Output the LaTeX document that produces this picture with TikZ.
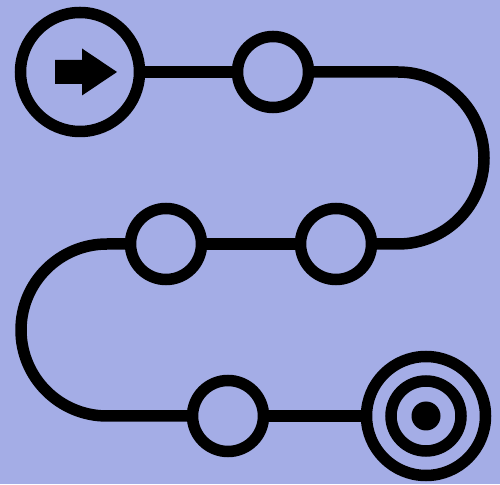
\documentclass[tikz,border=0pt]{standalone}
\usetikzlibrary{positioning}
\definecolor{routebg}{RGB}{164,173,230}
\tikzset{
  ring/.style={circle, draw=black, line width=11.5pt, inner sep=0pt, outer sep=0pt},
  waypoint/.style={ring, minimum size=71pt},
  bigring/.style={ring, minimum size=119pt},
  track/.style={line width=11.5pt, draw=black, line join=round}
}

\begin{document}
\begin{tikzpicture}[x=1pt,y=1pt]
  \fill[routebg] (0,0) rectangle (500,484);
  \useasboundingbox (0,0) rectangle (500,484);

  % start and goal
  \node[bigring] (start) at (80,412) {};
  \node[bigring] (goal) at (426,68) {};
  \node[ring, minimum size=70pt] (goalmid) at (goal) {};
  \node[circle, fill=black, inner sep=0pt, minimum size=29pt] (goaldot) at (goal) {};

  % stops along the way
  \node[waypoint] (s1) at (273,412) {};
  \node[waypoint] (s3) at (336,240) {};
  \node[waypoint] (s2) at (166,240) {};
  \node[waypoint] (s4) at (228,68) {};

  \coordinate (turnR) at (398,412);
  \coordinate (turnL) at (107,240);

  \draw[track] (start) -- (s1);
  \draw[track] (s1) -- (turnR) arc[start angle=90, end angle=-90, radius=86pt] -- (s3);
  \draw[track] (s3) -- (s2);
  \draw[track] (s2) -- (turnL) arc[start angle=90, end angle=270, radius=86pt] -- (s4);
  \draw[track] (s4) -- (goal);

  % arrow inside start
  \fill[black] ([shift={(-25,-12)}]start.center) -- ++(27,0) -- ++(0,-11.5)
    -- ([shift={(37,0)}]start.center) -- ([shift={(2,23.5)}]start.center)
    -- ++(0,-11.5) -- ++(-27,0) -- cycle;
\end{tikzpicture}
\end{document}
